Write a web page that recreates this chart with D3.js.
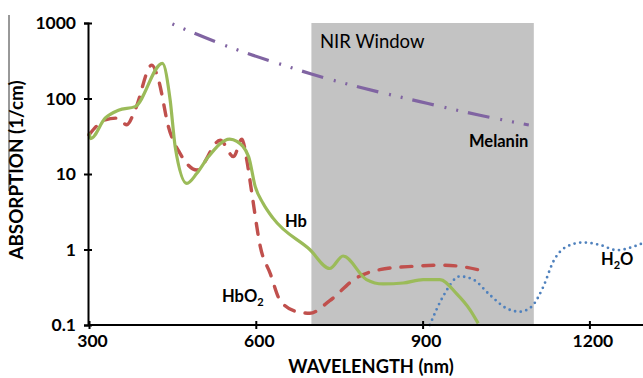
<!DOCTYPE html>
<html>
<head>
<meta charset="utf-8">
<script src="https://cdn.jsdelivr.net/npm/d3@7"></script>
<style>
body { margin: 0; background: #fff; }
text { font-family: Lato, "Open Sans", sans-serif; fill: #000; }
</style>
</head>
<body>
<script>
var w = 643;
var h = 378;

// Hb (deoxy-haemoglobin)
var hbWl  = [300, 303, 329, 353, 383, 432, 446, 455, 476, 494, 515, 553, 566, 587, 599, 613, 631, 697, 733, 757, 799, 829, 865, 901, 931, 961, 985, 1000];
var hbVal = [35, 29.5, 55, 70, 78, 292, 95, 23, 7.5, 10.2, 17, 29, 27, 17, 6.8, 4.1, 2.6, 1.0, 0.56, 0.82, 0.40, 0.35, 0.36, 0.40, 0.40, 0.26, 0.16, 0.105];

// HbO2 (oxy-haemoglobin)
var hbo2Wl  = [300, 329, 350, 368, 383, 413, 425, 443, 464, 494, 536, 560, 575, 584, 593, 608, 626, 644, 674, 697, 733, 781, 823, 883, 937, 973, 1000];
var hbo2Val = [33, 52, 55, 45, 71, 277, 176, 42, 18.6, 11.3, 28, 17, 29, 15, 5.5, 1.1, 0.48, 0.21, 0.15, 0.143, 0.21, 0.42, 0.54, 0.60, 0.62, 0.59, 0.54];

// water
var h2oWl  = [913, 937, 967, 991, 1021, 1051, 1075, 1096, 1117, 1135, 1159, 1189, 1219, 1249, 1279, 1300];
var h2oVal = [0.1, 0.24, 0.44, 0.40, 0.25, 0.166, 0.15, 0.175, 0.32, 0.69, 1.09, 1.24, 1.15, 0.98, 1.09, 1.25];

// melanin
var melWl  = [450, 554, 659, 700, 787, 895, 1003, 1091];
var melVal = [970, 476, 263, 211, 141, 91, 60, 44.6];

var xTicks = [300, 600, 900, 1200];
var yTicks = [0.1, 1, 10, 100, 1000];
var nirWindow = [700, 1100];

var svg = d3.select("body")
    .append("svg")
        .attr("width", w)
        .attr("height", h);

var x = d3.scaleLinear().domain([300, 1300]).range([89, 645]);
var y = d3.scaleLog().domain([0.1, 1000]).range([325, 23]);

var zip = function(a, b) {
    return a.map(function(d, i) { return [d, b[i]]; });
}

// stray frame line at the left edge
svg.append("line")
    .attr("x1", 9).attr("x2", 9)
    .attr("y1", 15).attr("y2", 191)
    .attr("stroke", "#333").attr("stroke-width", 1);

// NIR window
svg.append("rect")
    .attr("x", x(nirWindow[0]))
    .attr("y", y(1000))
    .attr("width", x(nirWindow[1]) - x(nirWindow[0]))
    .attr("height", y(0.1) - y(1000))
    .attr("fill", "#c3c3c3");

svg.append("text")
    .attr("x", 320).attr("y", 48)
    .attr("font-size", 18.5)
    .text("NIR Window");

var line = d3.line()
    .x(function(d) { return x(d[0]); })
    .y(function(d) { return y(d[1]); })
    .curve(d3.curveMonotoneX);

svg.append("path")
    .attr("d", line(zip(melWl, melVal)))
    .attr("fill", "none")
    .attr("stroke", "#8064a2")
    .attr("stroke-width", 3.2)
    .attr("stroke-dasharray", "2,10,2,10,22,11");

svg.append("path")
    .attr("d", line(zip(h2oWl, h2oVal)))
    .attr("fill", "none")
    .attr("stroke", "#4f81bd")
    .attr("stroke-width", 2.8)
    .attr("stroke-linecap", "round")
    .attr("stroke-dasharray", "0,5.7");

svg.append("path")
    .attr("d", line(zip(hbo2Wl, hbo2Val)))
    .attr("fill", "none")
    .attr("stroke", "#c0504d")
    .attr("stroke-width", 3.4)
    .attr("stroke-linecap", "round")
    .attr("stroke-dasharray", "11,11");

svg.append("path")
    .attr("d", line(zip(hbWl, hbVal)))
    .attr("fill", "none")
    .attr("stroke", "#9bbb59")
    .attr("stroke-width", 3.2);

// axes
var xAxis = svg.append("g")
    .attr("transform", "translate(0," + y(0.1) + ")")
    .call(d3.axisBottom(x).tickValues(xTicks).tickSize(4).tickFormat(d3.format("d")));
xAxis.selectAll(".tick line").attr("y1", -4).attr("y2", 4);
xAxis.select(".domain").attr("d", "M88,0H643");

var yAxis = svg.append("g")
    .attr("transform", "translate(" + 88 + ",0)")
    .call(d3.axisLeft(y).tickValues(yTicks).tickSize(4).tickFormat(function(d) { return d; }));
yAxis.selectAll(".tick line").attr("x1", -4).attr("x2", 4);

[xAxis, yAxis].forEach(function(g) {
    g.selectAll("path, line").attr("stroke", "#000").attr("stroke-width", 2);
    g.selectAll("text")
        .attr("font-family", "Lato, sans-serif")
        .attr("font-size", 17.5)
        .attr("font-weight", "bold")
        .attr("fill", "#000");
});
xAxis.selectAll("text").attr("y", 10).attr("dx", 3);
yAxis.selectAll("text").attr("x", -12);

svg.append("text")
    .attr("x", 371).attr("y", 373)
    .attr("text-anchor", "middle")
    .attr("font-size", 18.3)
    .attr("font-weight", "bold")
    .text("WAVELENGTH (nm)");

svg.append("text")
    .attr("transform", "translate(23,170) rotate(-90)")
    .attr("text-anchor", "middle")
    .attr("font-size", 18.8)
    .attr("font-weight", "bold")
    .text("ABSORPTION (1/cm)");

// series labels
var label = function(px, py, parts) {
    var t = svg.append("text")
        .attr("x", px).attr("y", py)
        .attr("font-size", 16.5)
        .attr("font-weight", "bold");
    parts.forEach(function(p) {
        t.append("tspan")
            .attr("font-size", p[1] ? 11 : 16.5)
            .attr("dy", p[1] ? 4 : (p[2] ? -4 : 0))
            .text(p[0]);
    });
}
label(285, 227, [["Hb"]]);
label(222, 302, [["HbO"], ["2", true]]);
label(601, 265, [["H"], ["2", true], ["O", false, true]]);
label(469, 147, [["Melanin"]]);
</script>
</body>
</html>
